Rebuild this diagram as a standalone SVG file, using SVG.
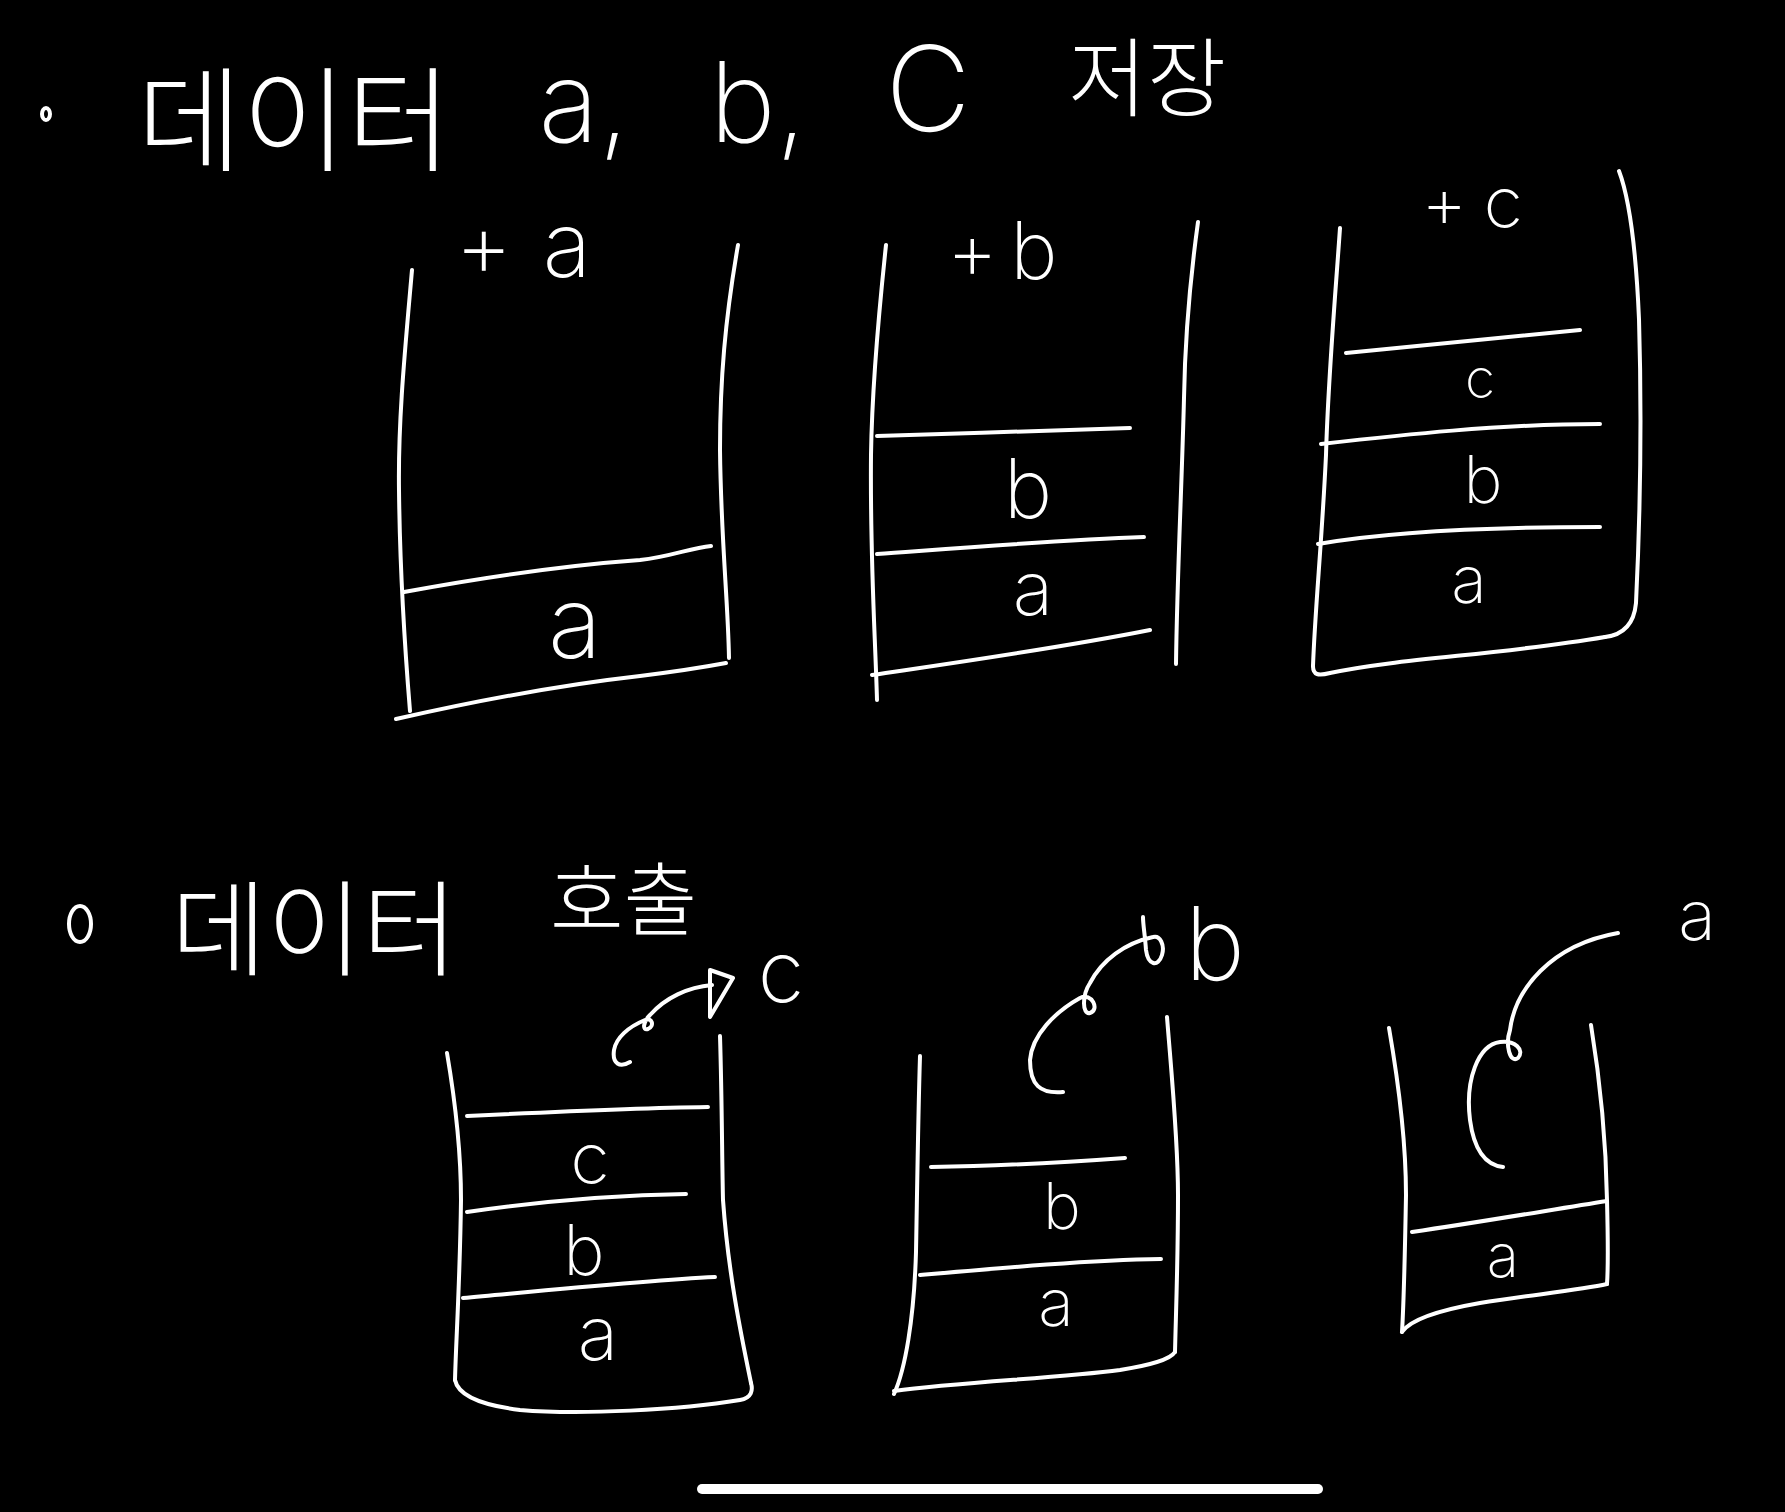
<svg xmlns="http://www.w3.org/2000/svg" width="1785" height="1512" viewBox="0 0 1785 1512">
<style>
.s{fill:none;stroke:#fff;stroke-width:4;stroke-linecap:round;stroke-linejoin:round}
.t{fill:#fff;font-family:Inter,"Liberation Sans","DejaVu Sans",sans-serif;font-weight:200;text-anchor:middle}
.k{fill:#fff;font-family:"Noto Sans CJK KR","Noto Sans",sans-serif;font-weight:200}
</style>
<rect width="1785" height="1512" fill="#000"/>
<g id="title-store">
<ellipse class="s" cx="46" cy="114" rx="4" ry="6" stroke-width="3"/>
<text class="k" x="137" y="162" font-size="114">데이터</text>
<text class="t" x="584" y="142" font-size="112">a,</text>
<text class="t" x="758" y="142" font-size="112">b,</text>
<text class="t" x="928" y="131" font-size="118">C</text>
<text class="k" x="1068" y="110" font-size="86">저장</text>
</g>
<g id="stack-push-a">
<path class="s" d="M412,270 C405,350 398,420 399,490 C400,580 405,650 410,711"/>
<path class="s" d="M738,245 C725,320 720,380 720,450 C721,540 728,600 729,658"/>
<path class="s" d="M396,719 C480,700 560,685 640,676 C680,671 710,666 726,663"/>
<path class="s" d="M404,592 C480,578 570,565 640,560 C670,557 690,548 711,546"/>
<text class="t" x="575" y="658" font-size="100">a</text>
<text class="t" x="538" y="277" font-size="90" letter-spacing="30">+a</text>
</g>
<g id="stack-push-b">
<path class="s" d="M886,245 C878,320 872,390 871,455 C870,560 875,630 877,700"/>
<path class="s" d="M1198,222 C1190,280 1185,340 1184,398 C1182,480 1177,580 1176,664"/>
<path class="s" d="M877,436 C960,434 1050,430 1130,428"/>
<path class="s" d="M877,554 C960,548 1060,540 1144,537"/>
<path class="s" d="M872,675 C960,662 1060,648 1150,630"/>
<text class="t" x="1028" y="518" font-size="82">b</text>
<text class="t" x="1033" y="615" font-size="75">a</text>
<text class="t" x="1008" y="279" font-size="80" letter-spacing="12">+b</text>
</g>
<g id="stack-push-c">
<path class="s" d="M1340,228 C1335,300 1328,380 1326,455 C1322,540 1315,610 1313,666"/>
<path class="s" d="M1313,666 C1313,675 1318,676 1330,673 C1400,658 1500,655 1605,637"/>
<path class="s" d="M1619,171 C1630,200 1636,250 1639,319 C1642,420 1640,520 1636,603 C1634,625 1622,635 1605,637"/>
<path class="s" d="M1346,353 C1420,345 1500,338 1580,330"/>
<path class="s" d="M1321,444 C1400,435 1500,424 1600,424"/>
<path class="s" d="M1318,544 C1400,530 1500,527 1600,527"/>
<text class="t" x="1480" y="398" font-size="55">c</text>
<text class="t" x="1483" y="503" font-size="66">b</text>
<text class="t" x="1469" y="603" font-size="66">a</text>
<text class="t" x="1480" y="228" font-size="72" letter-spacing="16">+c</text>
</g>
<g id="title-call">
<ellipse class="s" cx="80" cy="924" rx="11" ry="18"/>
<text class="k" x="171" y="968" font-size="104">데이터</text>
<text class="k" x="550" y="929" font-size="80">호출</text>
</g>
<g id="stack-pop-c">
<path class="s" d="M447,1053 C455,1100 461,1150 461,1200 C460,1280 456,1340 455,1380"/>
<path class="s" d="M455,1380 C458,1395 480,1405 520,1410 C580,1415 680,1410 740,1400 C752,1398 753,1390 751,1383"/>
<path class="s" d="M720,1036 C722,1100 722,1160 723,1200 C728,1270 740,1330 751,1383"/>
<path class="s" d="M467,1116 C550,1112 640,1108 708,1107"/>
<path class="s" d="M467,1212 C550,1200 620,1195 686,1194"/>
<path class="s" d="M463,1298 C550,1290 650,1280 715,1277"/>
<text class="t" x="590" y="1184" font-size="72">c</text>
<text class="t" x="584" y="1275" font-size="70">b</text>
<text class="t" x="598" y="1360" font-size="75">a</text>
<text class="t" x="781" y="1002" font-size="85">c</text>
</g>
<g id="stack-pop-b">
<path class="s" d="M920,1056 C918,1120 917,1200 916,1252 C914,1320 905,1370 894,1394"/>
<path class="s" d="M894,1391 C960,1382 1060,1378 1120,1370 C1150,1365 1170,1360 1175,1352"/>
<path class="s" d="M1167,1017 C1172,1080 1178,1140 1178,1195 C1178,1260 1176,1310 1175,1352"/>
<path class="s" d="M931,1167 C1000,1166 1070,1162 1125,1158"/>
<path class="s" d="M920,1275 C1000,1268 1090,1260 1161,1259"/>
<text class="t" x="1062" y="1229" font-size="64">b</text>
<text class="t" x="1056" y="1326" font-size="66">a</text>
<text class="t" x="1215" y="980" font-size="102">b</text>
</g>
<g id="stack-pop-a">
<path class="s" d="M1389,1028 C1398,1080 1406,1140 1406,1195 C1405,1250 1404,1300 1402,1332"/>
<path class="s" d="M1402,1332 C1410,1320 1440,1310 1480,1303 C1530,1295 1580,1290 1607,1284"/>
<path class="s" d="M1591,1025 C1600,1080 1606,1140 1607,1200 C1608,1240 1608,1270 1607,1284"/>
<path class="s" d="M1412,1232 C1480,1222 1550,1210 1607,1201"/>
<text class="t" x="1503" y="1277" font-size="60">a</text>
<text class="t" x="1697" y="940" font-size="70">a</text>
</g>
<g id="connectors">
<path class="s" d="M630,1062 C620,1068 612,1064 614,1050 C616,1038 628,1027 645,1020 C652,1017 655,1026 648,1029 C642,1031 643,1022 650,1015 C665,998 688,987 712,985"/>
<path class="s" d="M710,970 L733,978 L710,1017 Z"/>
<path class="s" d="M1063,1092 C1040,1094 1030,1085 1030,1060 C1032,1035 1055,1012 1080,998 C1092,992 1100,1010 1090,1013 C1082,1015 1082,995 1090,983 C1102,960 1125,943 1153,937 C1160,935 1165,945 1162,955 C1158,968 1148,965 1146,950 C1145,935 1143,925 1143,917"/>
<path class="s" d="M1503,1167 C1485,1165 1474,1150 1470,1120 C1465,1080 1478,1045 1500,1042 C1515,1040 1525,1050 1518,1058 C1510,1064 1505,1045 1510,1030 C1515,990 1550,945 1618,933"/>
</g>
<rect x="697" y="1484" width="626" height="10" rx="5" fill="#fff"/>
</svg>
